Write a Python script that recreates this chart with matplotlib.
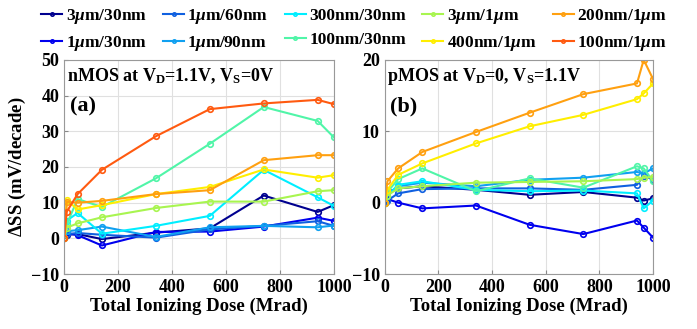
import matplotlib
matplotlib.use('Agg')
import matplotlib.pyplot as plt

plt.rcParams['font.family'] = 'Liberation Serif'
plt.rcParams['font.weight'] = 'bold'
plt.rcParams['mathtext.fontset'] = 'custom'
plt.rcParams['mathtext.rm'] = 'Liberation Serif:bold'
plt.rcParams['mathtext.it'] = 'Liberation Serif:italic:bold'
plt.rcParams['mathtext.bf'] = 'Liberation Serif:bold'

# device names (legend order: column-wise fill)
labels = [r'3$\mu$m/30nm', r'1$\mu$m/30nm', r'1$\mu$m/60nm', r'1$\mu$m/90nm',
          '300nm/30nm', '100nm/30nm', r'3$\mu$m/1$\mu$m', r'400nm/1$\mu$m',
          r'200nm/1$\mu$m', r'100nm/1$\mu$m']
colors = ['#00008f', '#0000ee', '#1060e0', '#10a0f0', '#00eeff',
          '#50f5a8', '#a8f550', '#ffee00', '#ffa010', '#ff5a10']

# nMOS, dose points (Mrad)
dose_n = [0, 10, 50, 140, 340, 540, 740, 940, 1000]
ss_n = [
    [0, 1.0, 1.2, -0.2, 1.6, 2.8, 12.0, 7.4, 9.3],
    [0, 1.5, 0.9, -2.0, 1.8, 1.9, 3.3, 5.8, 4.9],
    [0, 1.2, 1.5, 1.0, 0.2, 2.5, 3.5, 4.8, 3.5],
    [0, 2.0, 2.3, 3.3, 0.4, 3.1, 3.5, 3.1, 3.6],
    [0, 5.0, 7.1, 1.3, 3.5, 6.3, 19.2, 11.5, 9.1],
    [0, 4.0, 11.0, 8.8, 16.8, 26.5, 36.8, 32.9, 28.3],
    [0, 3.0, 4.2, 5.9, 8.5, 10.3, 10.3, 13.2, 13.5],
    [0, 10.7, 8.1, 9.3, 12.4, 14.4, 19.3, 17.0, 17.7],
    [0, 10.2, 10.0, 10.5, 12.4, 13.5, 21.9, 23.3, 23.3],
    [0, 7.5, 12.4, 19.2, 28.6, 36.2, 37.8, 38.8, 37.6],
]

# pMOS (no 100nm/1um device)
dose_p = [0, 10, 50, 140, 340, 540, 740, 940, 965, 1000]
ss_p = [
    [0, 1.5, 2.0, 2.3, 1.8, 1.1, 1.5, 0.7, 0.3, 0.6],
    [0, 0.5, 0.0, -0.8, -0.4, -3.1, -4.4, -2.5, -3.5, -4.9],
    [0, 0.3, 1.3, 1.9, 2.0, 2.0, 1.8, 2.5, 3.8, 3.2],
    [0, 1.0, 2.3, 2.8, 2.3, 3.2, 3.5, 4.3, 4.1, 4.8],
    [0, 1.0, 2.5, 3.0, 1.8, 1.6, 1.7, 1.3, -0.8, 0.3],
    [0, 1.5, 3.3, 4.8, 1.6, 3.4, 2.1, 5.1, 4.8, 3.0],
    [0, 1.0, 2.0, 2.3, 2.8, 2.9, 3.0, 3.3, 3.5, 3.6],
    [0, 1.8, 3.9, 5.5, 8.3, 10.7, 12.3, 14.5, 15.3, 16.7],
    [0, 3.0, 4.8, 7.1, 9.9, 12.6, 15.2, 16.7, 20.0, 17.3],
]

fig = plt.figure(figsize=(6.97, 3.29), dpi=100)
ax1 = fig.add_axes([0.092, 0.167, 0.387, 0.651])
ax2 = fig.add_axes([0.552, 0.167, 0.385, 0.651])

lines = []
for i in range(10):
    ln, = ax1.plot(dose_n, ss_n[i], '-o', color=colors[i], lw=1.5, ms=4,
                   mfc='none', mew=1.2, label=labels[i])
    lines.append(ln)
for i in range(len(ss_p)):
    ax2.plot(dose_p, ss_p[i], '-o', color=colors[i], lw=1.5, ms=4,
             mfc='none', mew=1.2)

for ax in (ax1, ax2):
    ax.set_xlim(0, 1000)
    ax.set_xticks([0, 200, 400, 600, 800, 1000])
    ax.grid(True, color='#e0e0e0', lw=0.8)
    ax.set_axisbelow(True)
    ax.tick_params(direction='in', labelsize=13, length=3, color='#888888')
    for s in ax.spines.values():
        s.set_color('#999999')
    ax.set_xlabel('Total Ionizing Dose (Mrad)', fontsize=13.5, fontweight='bold',
                  labelpad=1)

ax1.set_ylim(-10, 50)
ax1.set_yticks([-10, 0, 10, 20, 30, 40, 50])
ax1.set_ylabel(r'$\Delta$SS (mV/decade)', fontsize=13.5, fontweight='bold', labelpad=2)
ax2.set_ylim(-10, 20)
ax2.set_yticks([-10, 0, 10, 20])
for ax in (ax1, ax2):
    for t in ax.get_xticklabels() + ax.get_yticklabels():
        t.set_fontweight('bold')

ax1.text(0.01, 0.97, r'nMOS at V$_\mathregular{D}$=1.1V, V$_\mathregular{S}$=0V',
         transform=ax1.transAxes, fontsize=13, fontweight='bold', va='top')
ax1.text(0.02, 0.83, '(a)', transform=ax1.transAxes, fontsize=16,
         fontweight='bold', va='top')
ax2.text(0.01, 0.97, r'pMOS at V$_\mathregular{D}$=0, V$_\mathregular{S}$=1.1V',
         transform=ax2.transAxes, fontsize=13, fontweight='bold', va='top')
ax2.text(0.02, 0.83, '(b)', transform=ax2.transAxes, fontsize=16,
         fontweight='bold', va='top')

fig.legend(handles=lines, loc='upper center', bbox_to_anchor=(0.508, 1.025),
           ncol=5, frameon=False, fontsize=12.5, handlelength=1.2,
           handletextpad=0.2, columnspacing=0.95, labelspacing=0.45,
           markerscale=0.6)

fig.savefig('out.png', dpi=100)
